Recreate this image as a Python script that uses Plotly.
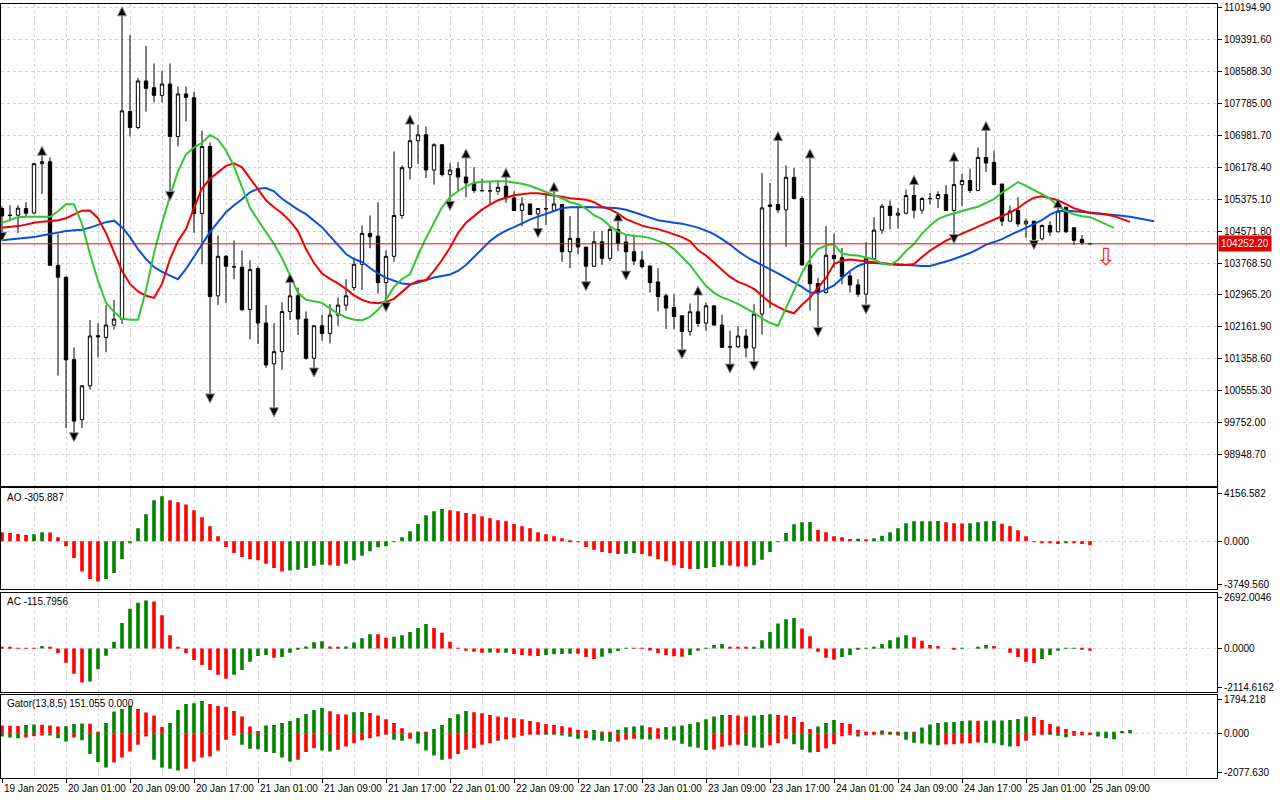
import plotly.graph_objects as go

# hourly bars, 19 Jan 2025 17:00 -> 25 Jan 2025 09:00
opens = [
    105142, 104974, 104974, 105142, 105031, 106271, 106322, 103711, 103410, 101334,
    99821, 100674, 101937, 101894, 102205, 102356, 107584, 107182, 108355, 108186,
    107993, 108279, 106957, 108028, 107935, 105016, 106706, 102941, 103937, 103676,
    103661, 102597, 103626, 102255, 101226, 101535, 102546, 102941, 102356, 101367,
    102188, 101994, 102456, 102707, 103149, 103736, 104514, 104447, 103274, 103937,
    104966, 106171, 106849, 106999, 106111, 106748, 105995, 106146, 105935, 105784,
    105594, 105594, 105576, 105702, 105408, 105092, 105257, 105006, 105142, 105092,
    105242, 104052, 104389, 104170, 103686, 104303, 103887, 104615, 104296, 104052,
    103844, 103694, 103292, 102941, 102647, 102439, 102044, 102539, 102255, 102690,
    102205, 101660, 101660, 101929, 101628, 102481, 105192, 105242, 105107, 105927,
    105393, 103719, 103249, 103023, 103962, 103902, 103443, 103217, 102983, 103877,
    104597, 105200, 104974, 105024, 105468, 105099, 105393, 105393, 105493, 105092,
    105744, 105845, 105594, 106429, 106304, 105759, 104823, 105092, 104755, 104823,
    104379, 104715, 104554, 105174, 104655, 104364, 104262,
]
highs = [
    105200, 105225, 105225, 105300, 106279, 106480, 106429, 104497, 103430, 101643,
    100681, 102331, 102245, 102707, 102840, 109994, 109509, 108437, 109241, 108796,
    108613, 108796, 108212, 108212, 108086, 107100, 106806, 104464, 103970, 104339,
    104088, 103837, 103686, 102707, 102255, 102782, 103274, 103149, 102546, 102188,
    102464, 102732, 102898, 103360, 103902, 104715, 104966, 105300, 104088, 106580,
    106229, 107265, 107250, 107208, 106788, 106748, 106286, 106311, 106412, 106186,
    105895, 105809, 105845, 105927, 105576, 105425, 105257, 105157, 105533, 105576,
    105242, 104949, 105157, 104170, 104572, 104572, 104698, 104823, 104489, 104489,
    104070, 103694, 103636, 102998, 102983, 102439, 102747, 102958, 102772, 102690,
    102464, 102062, 102180, 102105, 102732, 106035, 105784, 106849, 106229, 106161,
    105450, 106412, 103400, 104698, 104504, 104153, 103568, 103360, 104296, 104923,
    105257, 105343, 105157, 105619, 105744, 105425, 105533, 105576, 105727, 106329,
    106010, 106146, 106680, 107107, 106598, 105759, 105217, 105425, 104891, 104823,
    104740, 104823, 105157, 105174, 104672, 104472, 104280,
]
lows = [
    104547, 104823, 104522, 104949, 104999, 105508, 103700, 100932, 99610, 99494,
    99610, 100574, 101392, 101517, 102087, 102230, 106957, 107140, 107584, 107810,
    107810, 105576, 106706, 107333, 104529, 103736, 100473, 102707, 102757, 103360,
    102572, 101844, 101728, 101126, 100122, 101076, 102331, 101954, 101334, 101126,
    101811, 101743, 102188, 102564, 103066, 103091, 104138, 102998, 102772, 103801,
    104881, 105870, 106261, 105910, 105744, 105952, 105325, 105576, 105425, 105533,
    105576, 105242, 105493, 105282, 105074, 104698, 104974, 104640, 104723, 105092,
    103801, 103636, 103987, 103299, 103668, 103719, 103819, 104070, 103568, 103719,
    103636, 103023, 102546, 102105, 102105, 101585, 101937, 102162, 102062, 102188,
    101628, 101226, 101628, 101392, 101291, 101962, 102632, 105031, 104178, 105393,
    103700, 102564, 102145, 102998, 103651, 103234, 103023, 102915, 102715, 103862,
    104504, 104615, 104640, 104991, 104891, 105006, 105242, 105157, 105092, 104489,
    105200, 105533, 105576, 106060, 105744, 104698, 104805, 104680, 104404, 104339,
    104339, 104447, 104554, 104529, 104221, 104221, 104240,
]
closes = [
    104956, 104966, 105149, 105024, 106271, 106322, 103711, 103410, 101327, 99785,
    100674, 101929, 101911, 102205, 102356, 107602, 107182, 108355, 108169, 107993,
    108279, 106957, 108028, 107943, 105016, 106706, 102923, 103937, 103686, 103670,
    102589, 103601, 102255, 101201, 101535, 102546, 102941, 102356, 101367, 102188,
    101994, 102456, 102707, 102941, 103736, 104514, 104429, 103274, 103937, 104966,
    106171, 106849, 106999, 106111, 106748, 105995, 106111, 105935, 105784, 105594,
    105590, 105584, 105676, 105408, 105092, 105257, 104991, 105142, 105132, 105257,
    104052, 104389, 104170, 103686, 104303, 103887, 104615, 104263, 104052, 103819,
    103676, 103274, 102923, 102632, 102421, 102044, 102539, 102245, 102690, 102205,
    101643, 101655, 101929, 101628, 102481, 105157, 105232, 105107, 105927, 105393,
    103719, 103249, 103023, 103962, 103877, 103425, 103217, 102983, 103877, 104597,
    105200, 104966, 105024, 105468, 105099, 105393, 105390, 105493, 105092, 105744,
    105845, 105594, 106429, 106286, 105744, 104823, 105074, 104755, 104823, 104364,
    104715, 104547, 105074, 104554, 104339, 104278, 104252.2,
]

# Alligator lines as drawn (already shifted 8 / 5 / 3 bars forward)
jaw = [
    104339, 104359, 104384, 104409, 104421, 104459, 104489, 104534, 104572, 104585,
    104605, 104660, 104723, 104798, 104836, 104672, 104421, 104120, 103869, 103668,
    103543, 103442, 103360, 103618, 103919, 104221, 104547, 104798, 105049, 105225,
    105375, 105551, 105639, 105659, 105576, 105388, 105250, 105112, 104999, 104823,
    104672, 104447, 104221, 103995, 103869, 103794, 103643, 103505, 103392, 103317,
    103254, 103234, 103267, 103342, 103405, 103442, 103480, 103568, 103719, 103919,
    104120, 104321, 104472, 104585, 104672, 104773, 104861, 104936, 105011, 105087,
    105149, 105174, 105182, 105182, 105174, 105174, 105162, 105149, 105112, 105049,
    104974, 104911, 104848, 104811, 104785, 104760, 104710, 104660, 104585, 104497,
    104371, 104233, 104070, 103932, 103819, 103719, 103618, 103505, 103392, 103279,
    103166, 103023, 103016, 103104, 103204, 103392, 103568, 103694, 103769, 103769,
    103751, 103744, 103736, 103719, 103706, 103694, 103694, 103744, 103806, 103869,
    103945, 104020, 104120, 104233, 104296, 104371, 104472, 104559, 104647, 104748,
    104848, 104986, 105074, 105087, 105074, 105062, 105049, 105024, 104999, 104986,
    104961, 104936, 104898, 104861, 104823,
]
teeth = [
    104655, 104672, 104698, 104735, 104785, 104811, 104823, 104848, 104898, 104999,
    105087, 105092, 104898, 104522, 104020, 103568, 103242, 103053, 102941, 102890,
    103242, 103869, 104321, 104622, 105149, 105651, 105890, 106065, 106216, 106279,
    106178, 105902, 105626, 105350, 105174, 105024, 104823, 104572, 104120, 103769,
    103505, 103367, 103254, 103116, 102953, 102840, 102772, 102752, 102790, 102865,
    103041, 103217, 103317, 103335, 103568, 103844, 104153, 104522, 104785, 104961,
    105112, 105237, 105350, 105413, 105476, 105501, 105526, 105526, 105501, 105476,
    105438, 105400, 105375, 105362, 105300, 105187, 105124, 105011, 104873, 104785,
    104710, 104660, 104622, 104559, 104497, 104421, 104321, 104095, 103957, 103781,
    103593, 103417, 103292, 103217, 103116, 102941, 102772, 102664, 102564, 102501,
    102715, 102898, 103141, 103392, 103744, 103832, 103857, 103832, 103806, 103794,
    103756, 103731, 103719, 103719, 103744, 103919, 104083, 104208, 104334, 104421,
    104509, 104597, 104672, 104760, 104848, 104936, 105036, 105149, 105300, 105413,
    105450, 105400, 105350, 105250, 105149, 105087, 105031, 105011, 104991, 104949,
    104873, 104805,
]
lips = [
    104780, 104848, 104923, 104931, 104931, 104931, 104931, 105074, 105250, 105250,
    104748, 103995, 103317, 102765, 102539, 102363, 102338, 102338, 103091, 104020,
    104773, 105450, 106078, 106505, 106680, 106793, 106994, 106881, 106605, 106204,
    105676, 105157, 104848, 104547, 104246, 103894, 103468, 103016, 102840, 102802,
    102765, 102627, 102489, 102401, 102338, 102326, 102413, 102589, 102840, 103166,
    103367, 103485, 103970, 104396, 104773, 105174, 105425, 105576, 105702, 105789,
    105815, 105827, 105827, 105827, 105802, 105764, 105714, 105639, 105563, 105488,
    105400, 105300, 105250, 105137, 104974, 104873, 104698, 104559, 104484, 104447,
    104434, 104396, 104334, 104258, 104120, 103932, 103719, 103442, 103192, 103016,
    102903, 102828, 102740, 102627, 102514, 102376, 102263, 102188, 102639, 103066,
    103518, 103869, 104120, 104208, 104238, 104007, 103970, 103957, 103907, 103857,
    103756, 103719, 103844, 104070, 104246, 104509, 104710, 104873, 104961, 105024,
    105087, 105137, 105187, 105275, 105375, 105538, 105664, 105809, 105714, 105614,
    105501, 105388, 105200, 105074, 104999, 104949, 104923, 104836, 104748, 104655,
]

fractal_up = [5, 15, 36, 51, 58, 63, 69, 77, 87, 97, 101, 114, 119, 123, 132]
fractal_down = [0, 9, 21, 26, 34, 39, 48, 56, 67, 73, 78, 85, 91, 94, 102, 108, 119, 129]

ao = [
    705, 653, 574, 496, 548, 705, 700, 313, -392, -1305,
    -2349, -2949, -3132, -2949, -2480, -1383, -131, 1018, 2114, 3210,
    3524, 3210, 3054, 2871, 2427, 1879, 1175, 392, -444, -914,
    -1227, -1383, -1488, -1749, -2088, -2349, -2271, -2219, -2088, -1905,
    -1827, -1879, -1905, -1749, -1488, -1122, -783, -470, -392, -40,
    313, 783, 1357, 2036, 2349, 2532, 2427, 2349, 2219, 2140,
    1958, 1801, 1644, 1566, 1357, 1175, 1018, 705, 548, 392,
    235, 78, -26, -444, -653, -835, -914, -992, -966, -914,
    -992, -1175, -1383, -1566, -1879, -2088, -2166, -2155, -2088, -2010,
    -1879, -1890, -1958, -1965, -1879, -1436, -835, -26, 653, 1330,
    1488, 1514, 914, 705, 392, 313, 183, 209, 157, 235,
    444, 705, 1018, 1409, 1566, 1570, 1575, 1580, 1488, 1409,
    1400, 1409, 1488, 1566, 1580, 1383, 1175, 861, 392, -10,
    -78, -85, -209, -131, -140, -209, -305.887,
]
ac = [
    48, 32, 16, 5, -16, 112, 48, -240, -688, -1232,
    -1648, -1600, -1008, -352, 320, 1232, 1920, 2208, 2320, 2272,
    1600, 640, 48, -240, -560, -800, -1040, -1280, -1472, -1280,
    -1040, -640, -368, -320, -448, -416, -208, -48, 96, 304,
    352, 96, 48, 96, 288, 496, 688, 680, 512, 560,
    640, 800, 992, 1184, 992, 752, 320, -10, -112, -160,
    -208, -200, -215, -205, -272, -320, -352, -368, -320, -288,
    -272, -256, -262, -416, -512, -400, -240, -128, -5, -10,
    -16, -96, -240, -320, -384, -400, -320, -112, -16, 160,
    208, 80, 48, 32, 64, 400, 800, 1200, 1408, 1472,
    960, 592, -160, -448, -544, -416, -320, -48, -10, 32,
    208, 400, 544, 640, 544, 368, 160, 112, 0, -64,
    -16, 0, 48, 160, 112, 0, -208, -416, -640, -704,
    -512, -320, -112, -16, -5, -20, -115.7956,
]
gator_up = [
    356, 350, 340, 387, 402, 390, 356, 309, 325, 433,
    449, 441, 62, 480, 1006, 1129, 1284, 1129, 959, 820,
    294, 480, 1083, 1361, 1392, 1500, 1361, 1269, 1238, 1036,
    774, 309, 108, 356, 387, 480, 572, 712, 897, 1083,
    1176, 1021, 882, 874, 975, 990, 944, 820, 650, 480,
    232, 15, 77, 46, 201, 387, 712, 882, 1036, 975,
    928, 851, 774, 743, 696, 650, 572, 511, 433, 387,
    325, 263, 155, 124, 150, 77, 46, 155, 278, 309,
    356, 278, 232, 294, 309, 356, 433, 511, 650, 774,
    851, 845, 820, 774, 820, 851, 882, 851, 820, 760,
    526, 201, 309, 480, 619, 480, 433, 155, 62, 46,
    124, 46, 31, 39, 31, 263, 402, 480, 511, 526,
    572, 588, 580, 585, 590, 596, 619, 665, 774, 758,
    619, 433, 309, 201, 108, 46, 15, 31, 46, 50,
    108, 151.055,
]
gator_down = [
    155, 201, 232, 201, 139, 108, 110, 232, 387, 201,
    325, 975, 1346, 1593, 1361, 1129, 851, 541, 155, 1238,
    1593, 1655, 1733, 1655, 1315, 1129, 1083, 804, 309, 108,
    541, 727, 743, 882, 928, 1129, 1315, 1238, 882, 696,
    804, 851, 774, 619, 464, 325, 232, 155, 77, 309,
    356, 263, 480, 804, 1036, 1238, 1191, 975, 774, 696,
    541, 464, 356, 278, 201, 124, 77, 31, 46, 77,
    108, 170, 263, 232, 325, 356, 402, 387, 309, 263,
    278, 294, 263, 294, 340, 495, 634, 681, 789, 758,
    634, 557, 541, 588, 665, 681, 557, 464, 263, 510,
    774, 897, 882, 712, 511, 139, 93, 155, 93, 62,
    31, 39, 108, 309, 449, 480, 526, 557, 526, 511,
    480, 464, 433, 449, 464, 557, 619, 603, 356, 108,
    31, 46, 124, 186, 124, 93, 90, 155, 232, 278,
]

time_labels = [
    "19 Jan 2025", "20 Jan 01:00", "20 Jan 09:00", "20 Jan 17:00", "21 Jan 01:00",
    "21 Jan 09:00", "21 Jan 17:00", "22 Jan 01:00", "22 Jan 09:00", "22 Jan 17:00",
    "23 Jan 01:00", "23 Jan 09:00", "23 Jan 17:00", "24 Jan 01:00", "24 Jan 09:00",
    "24 Jan 17:00", "25 Jan 01:00", "25 Jan 09:00",
]
price_ticks = [
    110194.90, 109391.60, 108588.30, 107785.00, 106981.70, 106178.40, 105375.10,
    104571.80, 103768.50, 102965.20, 102161.90, 101358.60, 100555.30, 99752.00, 98948.70,
]
last_price = 104252.20
signal_bar = 138
signal_price = 103919
ao_range = (-3749.560, 4156.582)
ac_range = (-2114.6162, 2692.0046)
gator_range = (-2077.630, 1794.218)

GREEN = "#008000"
RED = "#ff0000"
GRID = "#d2d2d2"
FONT = dict(family="Liberation Sans, Arial, sans-serif", size=10, color="black")
X_RANGE = [-0.125, 151.875]
X_DOM = [1 / 1280, 1217 / 1280]
label_bars = list(range(0, 8 * len(time_labels), 8))


def hist_colors(vals, first):
    cols = [first]
    for prev, cur in zip(vals[:-1], vals[1:]):
        if cur > prev:
            cols.append(GREEN)
        elif cur < prev:
            cols.append(RED)
        else:
            cols.append(cols[-1])
    return cols


fig = go.Figure()

fig.add_trace(go.Candlestick(
    x=list(range(len(opens))), open=opens, high=highs, low=lows, close=closes,
    increasing=dict(line=dict(color="black", width=1), fillcolor="white"),
    decreasing=dict(line=dict(color="black", width=1), fillcolor="black"),
    whiskerwidth=0, xaxis="x", yaxis="y",
))
for vals, col in [(jaw, "#0a4fd6"), (teeth, "#f00000"), (lips, "#33c633")]:
    fig.add_trace(go.Scatter(x=list(range(len(vals))), y=vals, mode="lines",
                             line=dict(color=col, width=2), xaxis="x", yaxis="y"))

fig.add_trace(go.Scatter(
    x=fractal_up, y=[highs[i] + 230 for i in fractal_up], mode="markers", cliponaxis=False,
    marker=dict(symbol="arrow-up", size=9, color="black", line=dict(color="#8c8c8c", width=1)),
    xaxis="x", yaxis="y"))
fig.add_trace(go.Scatter(
    x=fractal_down, y=[lows[i] - 230 for i in fractal_down], mode="markers", cliponaxis=False,
    marker=dict(symbol="arrow-down", size=9, color="black", line=dict(color="#8c8c8c", width=1)),
    xaxis="x", yaxis="y"))

fig.add_trace(go.Bar(x=list(range(len(ao))), y=ao, width=0.45,
                     marker=dict(color=hist_colors(ao, RED), line=dict(width=0)),
                     xaxis="x2", yaxis="y2"))
fig.add_trace(go.Bar(x=list(range(len(ac))), y=ac, width=0.45,
                     marker=dict(color=hist_colors(ac, RED), line=dict(width=0)),
                     xaxis="x3", yaxis="y3"))
fig.add_trace(go.Bar(x=list(range(len(gator_up))), y=gator_up, width=0.45,
                     marker=dict(color=hist_colors(gator_up, RED), line=dict(width=0)),
                     xaxis="x4", yaxis="y4"))
fig.add_trace(go.Bar(x=list(range(len(gator_down))), y=[-v for v in gator_down], width=0.45,
                     marker=dict(color=hist_colors(gator_down, GREEN), line=dict(width=0)),
                     xaxis="x4", yaxis="y4"))


def x_axis(anchor, bottom=False, match=None):
    d = dict(domain=X_DOM, range=X_RANGE, anchor=anchor, showline=True, mirror=True,
             linecolor="black", linewidth=1, zeroline=False, showticklabels=False,
             tickmode="array", tickvals=label_bars, ticks="outside" if bottom else "",
             ticklen=4, tickcolor="black", showgrid=True, gridcolor=GRID, griddash="3px,3px",
             minor=dict(tickmode="linear", tick0=0, dtick=4, showgrid=True,
                        gridcolor=GRID, griddash="3px,3px"),
             rangeslider=dict(visible=False))
    if match:
        d["matches"] = match
    return d


def sub_axis(anchor, dom_px, rng, texts):
    top_px, bot_px = dom_px
    per_px = (rng[1] - rng[0]) / (bot_px - top_px)
    return dict(domain=[1 - bot_px / 800, 1 - top_px / 800], range=list(rng), anchor=anchor,
                side="right", tickmode="array",
                tickvals=[rng[1] - 5 * per_px, 0, rng[0] + 5 * per_px], ticktext=texts,
                ticks="outside", ticklen=4, tickcolor="black", tickfont=FONT,
                showgrid=False, zeroline=False, showline=True, mirror=True,
                linecolor="black", linewidth=1)


fig.update_layout(
    width=1280, height=800, margin=dict(l=0, r=0, t=0, b=0),
    paper_bgcolor="white", plot_bgcolor="white", showlegend=False,
    barmode="overlay", boxgap=0.4, font=FONT,
    xaxis=x_axis("y"),
    xaxis2=x_axis("y2", match="x"),
    xaxis3=x_axis("y3", match="x"),
    xaxis4=x_axis("y4", bottom=True, match="x"),
    yaxis=dict(domain=[1 - 486 / 800, 1 - 2 / 800], range=[98145, 110295], anchor="x",
               side="right", tickmode="array", tickvals=price_ticks,
               ticktext=[f"{v:.2f}" for v in price_ticks], ticks="outside", ticklen=4,
               tickcolor="black", tickfont=FONT, showgrid=True, gridcolor=GRID,
               griddash="3px,3px", zeroline=False, showline=True, mirror=True,
               linecolor="black", linewidth=1),
    yaxis2=sub_axis("x2", (488, 589.5), ao_range, ["4156.582", "0.000", "-3749.560"]),
    yaxis3=sub_axis("x3", (593, 692.7), ac_range, ["2692.0046", "0.0000", "-2114.6162"]),
    yaxis4=sub_axis("x4", (695.3, 778.7), gator_range, ["1794.218", "0.000", "-2077.630"]),
)

shapes = [dict(type="line", xref="x domain", x0=0, x1=1, yref="y", y0=last_price, y1=last_price,
               line=dict(color="#ff0000", width=1), layer="above")]
for ax in ["2", "3", "4"]:
    shapes.append(dict(type="line", xref=f"x{ax} domain", x0=0, x1=1, yref=f"y{ax}", y0=0, y1=0,
                       line=dict(color=GRID, width=1, dash="3px,3px"), layer="below"))
fig.update_layout(shapes=shapes)

annotations = [
    dict(x=1218 / 1280, xref="paper", y=last_price, yref="y", text="104252.20",
         showarrow=False, xanchor="left", yanchor="middle", bgcolor="#e00000",
         font=dict(family=FONT["family"], size=10, color="white"), borderpad=2),
    dict(x=signal_bar, xref="x", y=signal_price, yref="y", text="\u21e9", showarrow=False,
         font=dict(family="DejaVu Sans", size=24, color="#ff2020")),
    dict(x=5 / 1280, xref="paper", y=1 - 497 / 800, yref="paper", text="AO -305.887",
         showarrow=False, xanchor="left", yanchor="middle", font=FONT),
    dict(x=5 / 1280, xref="paper", y=1 - 602 / 800, yref="paper", text="AC -115.7956",
         showarrow=False, xanchor="left", yanchor="middle", font=FONT),
    dict(x=5 / 1280, xref="paper", y=1 - 704.5 / 800, yref="paper",
         text="Gator(13,8,5) 151.055 0.000",
         showarrow=False, xanchor="left", yanchor="middle", font=FONT),
]
for b, txt in zip(label_bars, time_labels):
    annotations.append(dict(x=b, xref="x4", y=1 - 789 / 800, yref="paper", text=txt,
                            showarrow=False, xanchor="left", yanchor="middle", font=FONT))
fig.update_layout(annotations=annotations)

# the page body has a default 8px margin; remove it so the figure fills the window
fig.write_html("out.html", config={"displayModeBar": False},
               post_script="document.body.style.margin='0';")
